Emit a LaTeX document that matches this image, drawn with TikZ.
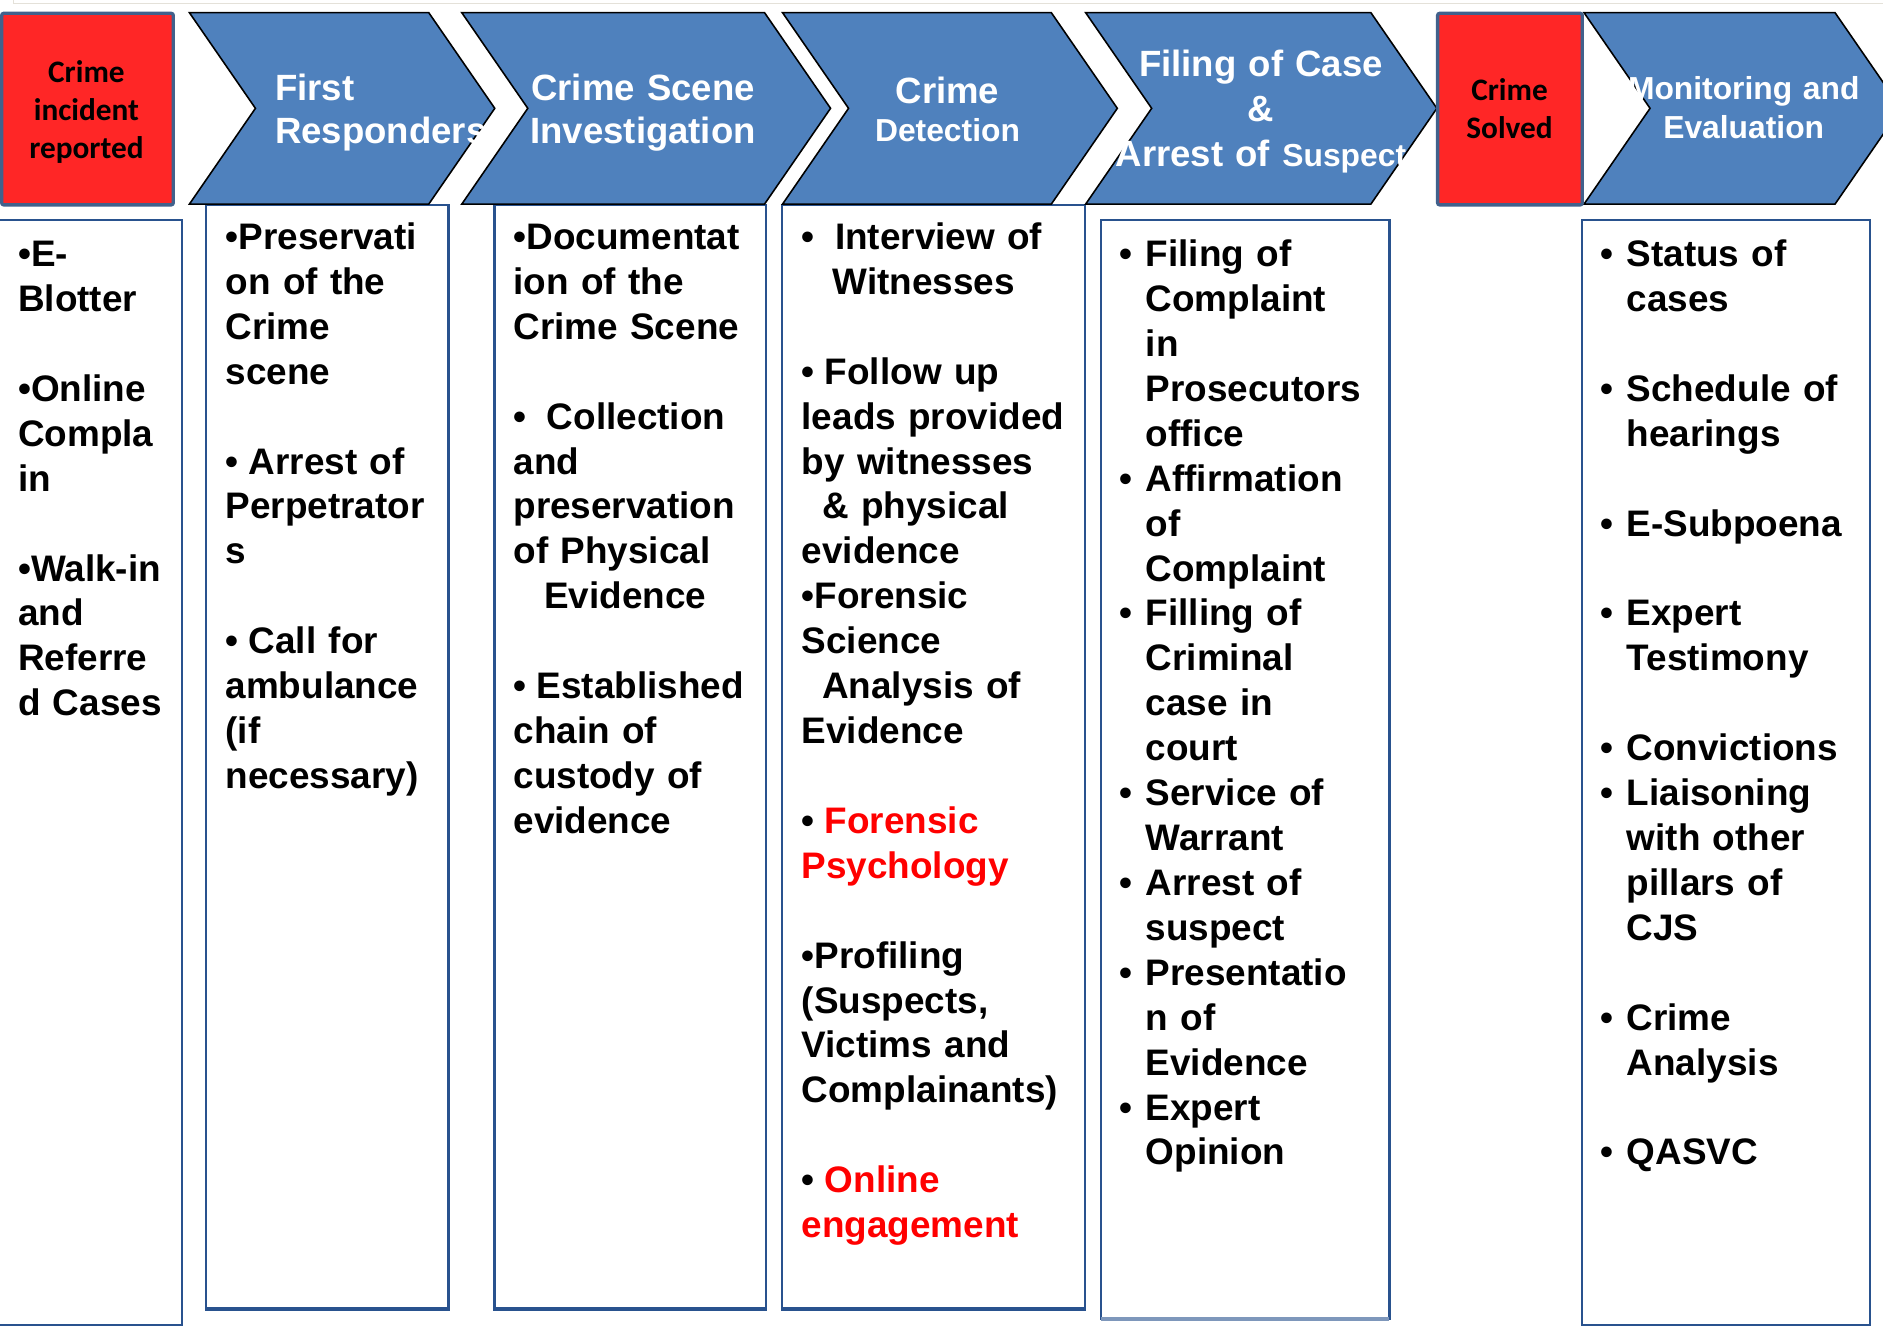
\documentclass[tikz,border=0pt]{standalone}
\usepackage{fontspec}
\setmainfont{Liberation Sans}
\newfontfamily\calibri{Carlito}
\definecolor{chev}{RGB}{79,129,189}
\definecolor{alarm}{RGB}{255,38,38}
\definecolor{alarmedge}{RGB}{65,97,140}
\definecolor{frame}{RGB}{41,82,142}
\definecolor{hairline}{RGB}{228,225,217}
\newcommand*{\lh}{12.78pt}
\newcommand*{\bl}{\leavevmode\llap{\makebox[7.5pt][l]{•}}}
\newcommand*{\sk}[1]{\hspace*{#1\fontdimen2\font}}

\begin{document}
\begin{tikzpicture}[
   x=0.012009cm, y=-0.012009cm,
   chevron/.style={fill=chev, draw=black, line width=0.45pt, line join=miter},
   alarmbox/.style={fill=alarm, draw=alarmedge, line width=0.95pt, rounded corners=0.6pt},
   listbox/.style={draw=frame, line width=0.6pt},
   heading/.style={text=white, inner sep=0, text width=100pt, align=center, anchor=base,
                   font=\bfseries\fontsize{10.4}{12.3}\selectfont},
   alarmtext/.style={inner sep=0, text width=60pt, align=center, anchor=base,
                     font=\calibri\bfseries\fontsize{8.9}{10.8}\selectfont},
   items/.style={inner sep=0, text width=90pt, align=left, anchor=base west,
                 font=\bfseries\fontsize{10.5}{\lh}\selectfont}
  ]

  \useasboundingbox (0,0) rectangle (1568,1104);
  \clip (0,0) rectangle (1568,1104);

  % faint frame at the top
  \draw[hairline, line width=0.4pt] (11,0) -- (11,3) -- (1568,3);

  % columns under the steps
  \draw[listbox] (-3,183.5) rectangle (151.3,1103.5);
  \foreach \L/\R in {171.5/373.5, 411.8/637.5, 650.9/903.6} {
    \draw[listbox] (\L,170.5) rectangle (\R,1090.5);
    \draw[frame, line width=1.1pt] (\L,1090) -- (\R,1090);
  }
  \draw[listbox] (917,183.5) rectangle (1157,1098.5);
  \draw[frame!60, line width=1.1pt] (917,1098) -- (1157,1098);
  \draw[listbox] (1317,183.5) rectangle (1557,1103.5);

  % steps
  \foreach \L/\R in {157.7/357, 384.5/636.6, 651.6/875.4, 904/1141.5, 1319/1528} {
    \draw[chevron] (\L,10.5) -- (\R,10.5) -- (\R+55,90.2) -- (\R,170) -- (\L,170)
      -- (\L+55,90.2) -- cycle;
  }
  \draw[alarmbox] (1.4,11.1) rectangle (144.3,170.6);
  \draw[alarmbox] (1197.1,11.1) rectangle (1317.6,170.6);

  \node[alarmtext] (reported) at (72,68.5) {Crime\\incident\\reported};
  \node[alarmtext] (solved) at (1257,84) {Crime\\Solved};

  \node[heading, align=left, anchor=base west] (respond) at (228.5,83.3) {First\\Responders};
  \node[heading] (scene) at (535.5,83.3) {Crime Scene\\Investigation};
  \node[heading, font=\bfseries\fontsize{10.4}{10.93}\selectfont] (detect) at (789,86)
    {Crime\\{\fontsize{9.05}{10.93}\selectfont Detection}};
  \node[heading, font=\bfseries\fontsize{10.4}{12.8}\selectfont] (filing) at (1050,63.8)
    {Filing of Case\\\&\\Arrest of {\fontsize{9.05}{12.8}\selectfont Suspect}};
  \node[heading, font=\bfseries\fontsize{9.05}{10.93}\selectfont] (monitor) at (1452,83)
    {Monitoring and\\Evaluation};

  % column texts
  \node[items] (intakelist) at (14.5,222)
    {•E-\\Blotter\\\mbox{}\\•Online\\Compla\\in\\\mbox{}\\•Walk-in\\and\\Referre\\d Cases};

  \node[items] (respondlist) at (187.3,207.7)
    {•Preservati\\on of the\\Crime\\scene\\\mbox{}\\•\sk{1}Arrest of\\Perpetrator\\s\\\mbox{}\\
     •\sk{1}Call for\\ambulance\\(if\\necessary)};

  \node[items] (scenelist) at (427,207.7)
    {•Documentat\\ion of the\\Crime Scene\\\mbox{}\\•\sk{2}Collection\\and\\preservation\\
     of Physical\\\sk{3}Evidence\\\mbox{}\\•\sk{1}Established\\chain of\\custody of\\evidence};

  \node[items] (detectlist) at (667,207.7)
    {•\sk{2}Interview of\\\sk{3}Witnesses\\\mbox{}\\•\sk{1}Follow up\\leads provided\\
     by witnesses\\\sk{2}\& physical\\evidence\\•Forensic\\Science\\\sk{2}Analysis of\\
     Evidence\\\mbox{}\\•\sk{1}\textcolor{red}{Forensic}\\\textcolor{red}{Psychology}\\\mbox{}\\
     •Profiling\\(Suspects,\\Victims and\\Complainants)\\\mbox{}\\
     •\sk{1}\textcolor{red}{Online}\\\textcolor{red}{engagement}};

  \node[items] (filinglist) at (953.5,222)
    {\bl Filing of\\Complaint\\in\\Prosecutors\\office\\\bl Affirmation\\of\\Complaint\\
     \bl Filling of\\Criminal\\case in\\court\\\bl Service of\\Warrant\\\bl Arrest of\\suspect\\
     \bl Presentatio\\n of\\Evidence\\\bl Expert\\Opinion};

  \node[items] (monitorlist) at (1354,222)
    {\bl Status of\\cases\\\mbox{}\\\bl Schedule of\\hearings\\\mbox{}\\\bl E-Subpoena\\\mbox{}\\
     \bl Expert\\Testimony\\\mbox{}\\\bl Convictions\\\bl Liaisoning\\with other\\pillars of\\CJS\\
     \mbox{}\\\bl Crime\\Analysis\\\mbox{}\\\bl QASVC};

\end{tikzpicture}
\end{document}
